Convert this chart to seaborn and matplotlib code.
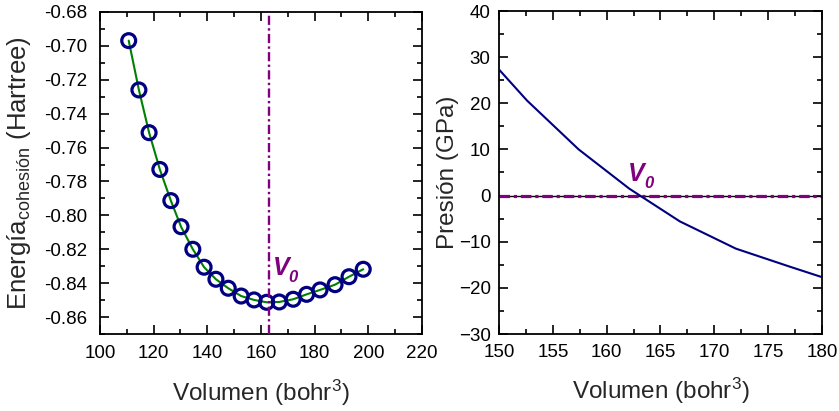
import numpy as np
import pandas as pd
import matplotlib
matplotlib.use("Agg")
import matplotlib.pyplot as plt
from matplotlib.ticker import MultipleLocator
import seaborn as sns

# Cohesion energy vs. cell volume
volumen = [110.7, 114.5, 118.3, 122.3, 126.4, 130.2, 134.6, 138.8, 143.2, 147.8,
           152.6, 157.4, 162.1, 166.8, 172.0, 177.0, 182.0, 187.6, 192.8, 198.1]
energia = [-0.6969, -0.7260, -0.7512, -0.7729, -0.7913, -0.8067, -0.8200, -0.8306,
           -0.8377, -0.8430, -0.8476, -0.8499, -0.8513, -0.8511, -0.8495, -0.8466,
           -0.8440, -0.8409, -0.8362, -0.8318]

# Pressure evaluated at the volumes around equilibrium
volumen_p = [147.8, 152.6, 157.4, 162.1, 166.8, 172.0, 177.0, 182.0]
presion = [33.0, 20.6, 10.0, 1.5, -5.6, -11.5, -15.4, -19.2]

# Equilibrium volume
v0 = 162.8

NAVY = "#000080"
GREEN = "#008000"
PURPLE = "#800080"

sns.set_theme(style="ticks")
plt.rcParams.update({
    "font.family": ["Liberation Sans", "DejaVu Sans"],
    "mathtext.fontset": "custom",
    "mathtext.rm": "Liberation Sans",
    "mathtext.it": "Liberation Sans:italic",
    "mathtext.bf": "Liberation Sans:bold",
    "axes.linewidth": 1.3,
    "axes.edgecolor": "black",
    "xtick.direction": "in",
    "ytick.direction": "in",
    "xtick.top": True,
    "ytick.right": True,
    "xtick.major.size": 6.5,
    "ytick.major.size": 6.5,
    "xtick.minor.size": 3.5,
    "ytick.minor.size": 3.5,
    "xtick.major.width": 1.2,
    "ytick.major.width": 1.2,
    "xtick.minor.width": 1.2,
    "ytick.minor.width": 1.2,
    "xtick.color": "black",
    "ytick.color": "black",
    "xtick.labelsize": 13.5,
    "ytick.labelsize": 13.5,
})

fig = plt.figure(figsize=(8.39, 4.11), dpi=100)
W, H = 839, 411
ax1 = fig.add_axes([100 / W, 77 / H, 322 / W, 322 / H])
ax2 = fig.add_axes([499 / W, 77 / H, 323 / W, 323 / H])

df_e = pd.DataFrame({"V": volumen, "E": energia})
df_p = pd.DataFrame({"V": volumen_p, "P": presion})


def v0_label(ax, x, y):
    """Bold italic V with a subscript 0."""
    style = dict(color=PURPLE, fontweight="bold", fontstyle="italic")
    ax.text(x, y, "V", fontsize=18, ha="left", va="baseline", **style)
    ax.annotate("0", xy=(x, y), xytext=(11.5, -5), textcoords="offset points",
                fontsize=12, ha="left", va="baseline", **style)


# Left panel: energy curve
sns.lineplot(data=df_e, x="V", y="E", ax=ax1, color=GREEN, lw=1.5,
             sort=True, zorder=2)
sns.scatterplot(data=df_e, x="V", y="E", ax=ax1, marker="o", s=100,
                facecolor="none", edgecolor=NAVY, linewidth=2.3, zorder=3)
ax1.axvline(v0, color=PURPLE, lw=1.7, dashes=(3.9, 1.4, 1.0, 1.4), zorder=4)
v0_label(ax1, 164.4, -0.8352)

ax1.set_xlim(100, 220)
ax1.set_ylim(-0.87, -0.68)
ax1.xaxis.set_major_locator(MultipleLocator(20))
ax1.xaxis.set_minor_locator(MultipleLocator(10))
ax1.yaxis.set_major_locator(MultipleLocator(0.02))
ax1.yaxis.set_minor_locator(MultipleLocator(0.01))
ax1.yaxis.set_major_formatter(plt.FuncFormatter(lambda v, p: f"{v:.2f}"))
ax1.tick_params(axis="x", which="both", pad=8)
ax1.tick_params(axis="y", which="both", pad=9)
ax1.set_xlabel(r"Volumen (bohr$^{3}$)", fontsize=17.5, labelpad=11)
ax1.set_ylabel(r"Energía$_{\mathrm{cohesión}}$ (Hartree)", fontsize=18.5, labelpad=8)

# Right panel: pressure curve
ax2.axhline(0, color="black", lw=1.0, zorder=1)
ax2.axhline(0, color=PURPLE, lw=2.3, dashes=(3.3, 1.2, 1.0, 1.2), zorder=2)
sns.lineplot(data=df_p, x="V", y="P", ax=ax2, color=NAVY, lw=1.5,
             sort=True, zorder=3)
v0_label(ax2, 162.0, 3.2)

ax2.set_xlim(150, 180)
ax2.set_ylim(-30, 40)
ax2.xaxis.set_major_locator(MultipleLocator(5))
ax2.xaxis.set_minor_locator(MultipleLocator(2.5))
ax2.yaxis.set_major_locator(MultipleLocator(10))
ax2.yaxis.set_minor_locator(MultipleLocator(5))
ax2.tick_params(axis="x", which="both", pad=7)
ax2.tick_params(axis="y", which="both", pad=6)
ax2.set_xlabel(r"Volumen (bohr$^{3}$)", fontsize=17.5, labelpad=11)
ax2.set_ylabel("Presión (GPa)", fontsize=17.5, labelpad=0)

for ax in (ax1, ax2):
    for side in ("top", "right", "left", "bottom"):
        ax.spines[side].set_visible(True)

fig.savefig("out.png", dpi=100)
